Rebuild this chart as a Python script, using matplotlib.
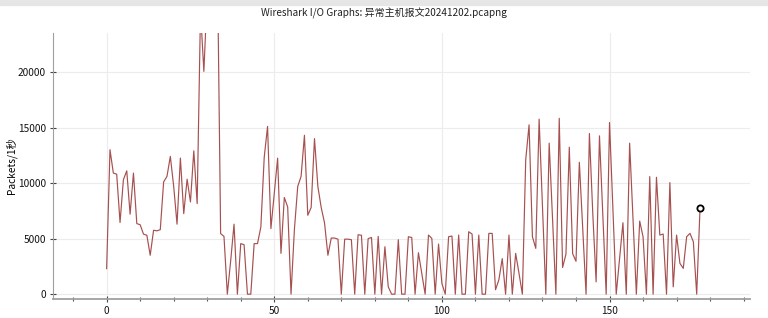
import matplotlib.pyplot as plt
from matplotlib.patches import Rectangle
from matplotlib.ticker import MultipleLocator

plt.rcParams['font.family'] = ['Noto Sans CJK SC', 'DejaVu Sans']

# packets per second, one value per 1s interval (t = 0 .. 177)
seconds = list(range(178))
packets = [
    2300, 13000, 10900, 10800, 6450, 10300, 11100, 7200, 10900, 6350,
    6250, 5400, 5300, 3500, 5750, 5700, 5800, 10100, 10600, 12400,
    9700, 6300, 12250, 7250, 10350, 8300, 12900, 8150, 25500, 20050,
    27000, 30000, 28500, 31000, 5450, 5200, 0, 3000, 6300, 0,
    4550, 4450, 0, 0, 4550, 4550, 6050, 12300, 15100, 5900,
    9100, 12240, 3670, 8700, 7850, 0, 5800, 9700, 10600, 14300,
    7100, 7800, 14000, 9700, 7800, 6400, 3500, 5050, 5050, 4950,
    0, 4950, 4950, 4900, 0, 5350, 5300, 0, 5000, 5100,
    0, 5200, 0, 4270, 660, 0, 0, 4900, 0, 0,
    5170, 5100, 0, 3730, 1870, 0, 5320, 5020, 0, 4510,
    960, 0, 5170, 5230, 0, 5320, 0, 0, 5620, 5410,
    0, 5320, 0, 0, 5470, 5470, 400, 1300, 3200, 0,
    5320, 0, 3670, 1870, 0, 12090, 15240, 5170, 4120, 15750,
    7900, 0, 13590, 6800, 0, 15830, 2400, 3600, 13230, 3640,
    2960, 11870, 5900, 0, 14460, 7300, 1110, 14250, 7100, 0,
    15450, 7700, 0, 3200, 6430, 0, 13590, 6800, 0, 6580,
    5170, 0, 10580, 0, 10520, 5320, 5410, 0, 10040, 660,
    5320, 2770, 2320, 5170, 5470, 4720, 0, 7780,
]

title = "Wireshark I/O Graphs: 异常主机报文20241202.pcapng"
ylabel = "Packets/1秒"

fig = plt.figure(figsize=(7.68, 3.18), dpi=100)
fig.patches.append(Rectangle((0, 0.985), 1, 0.015, transform=fig.transFigure,
                             color='#e6e6e6', zorder=0))
fig.text(0.5, 0.958, title, ha='center', va='center', fontsize=7.2, color='#222222')

ax = fig.add_axes([0.069, 0.061, 0.908, 0.835])
ax.plot(seconds, packets, color='#a65050', lw=0.85)
ax.plot(seconds[-1], packets[-1], 'o', ms=4.5, mfc='white', mec='black', mew=1.3)

ax.set_xlim(-16, 192)
ax.set_ylim(-400, 23500)
ax.xaxis.set_major_locator(MultipleLocator(50))
ax.xaxis.set_minor_locator(MultipleLocator(10))
ax.yaxis.set_major_locator(MultipleLocator(5000))
ax.grid(True, which='major', color='#ececec', lw=0.8)
ax.set_axisbelow(True)

for side in ['top', 'right']:
    ax.spines[side].set_visible(False)
ax.spines['bottom'].set_color('#a0a0a0')
ax.spines['bottom'].set_linewidth(1.3)
ax.spines['left'].set_color('#a0a0a0')
ax.spines['left'].set_linewidth(0.8)

ax.tick_params(axis='both', which='major', labelsize=7.3, colors='#444444',
               labelcolor='#111111', length=4, width=0.8, direction='inout')
ax.tick_params(axis='x', which='minor', length=3, width=0.8,
               colors='#555555', direction='inout')
ax.tick_params(axis='y', pad=3)
ax.set_ylabel(ylabel, fontsize=7.3)
ax.yaxis.set_label_coords(-0.051, 0.5)

fig.savefig('out.png', dpi=100)
